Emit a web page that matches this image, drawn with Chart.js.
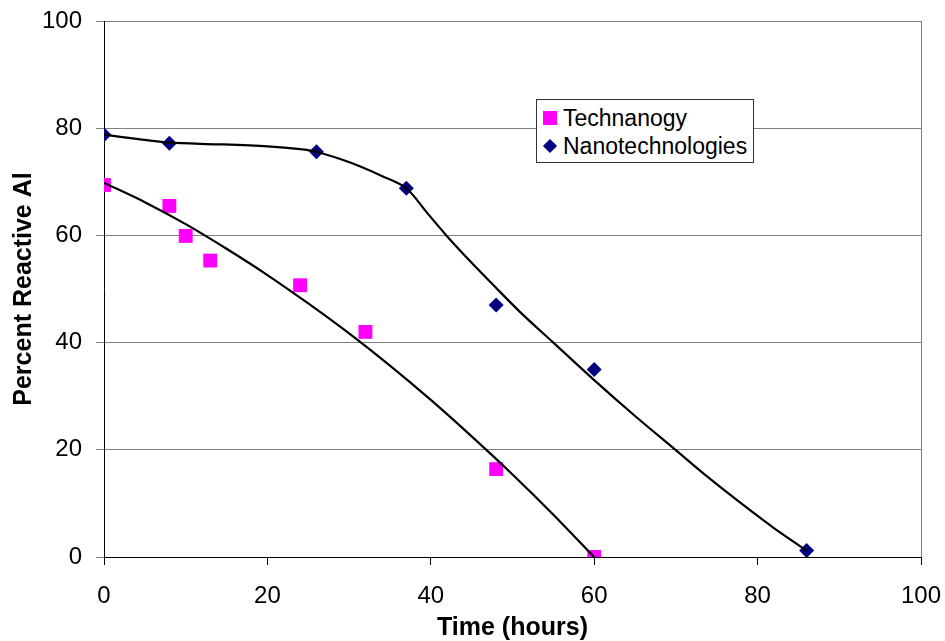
<!DOCTYPE html>
<html>
<head>
<meta charset="utf-8">
<script src="https://cdn.jsdelivr.net/npm/chart.js@4.4.1/dist/chart.umd.min.js"></script>
<style>
  html, body { margin: 0; padding: 0; background: #fff; }
  #wrap { position: relative; width: 945px; height: 641px; }
  #legend { position: absolute; left: 536px; top: 99px; width: 216px; height: 62px;
    border: 1px solid #333; background: #fff; font-family: "Liberation Sans", Arial, sans-serif;
    font-size: 23px; color: #000; }
  .item { position: absolute; left: 0; height: 26px; line-height: 26px; white-space: nowrap; }
  .item span.txt { position: absolute; left: 26px; top: 0; }
  .sq { position: absolute; left: 6px; top: 6px; width: 14px; height: 14px; background: #FF00FF; }
  .dm { position: absolute; left: 8px; top: 8px; width: 10px; height: 10px; background: #000080; transform: rotate(45deg); }
</style>
</head>
<body>
<div id="wrap">
  <canvas id="c" width="945" height="641"></canvas>
  <div id="legend"></div>
</div>
<script>
// ---- data ----
const seriesNames = ["Technanogy", "Nanotechnologies"];

const technanogyX = [0, 8, 10, 13, 24, 32, 48, 60];
const technanogyY = [69.4, 65.5, 59.9, 55.3, 50.7, 42.0, 16.4, 0.0];

const nanoX = [0, 8, 26, 37, 48, 60, 86];
const nanoY = [78.8, 77.2, 75.6, 68.8, 47.0, 35.0, 1.2];

// trend curves
const technanogyCurveX = [0, 5, 10, 15, 20, 25, 30, 35, 40, 45, 50, 55, 60];
const technanogyCurveY = [69.8, 66.2, 62.1, 57.5, 52.6, 47.3, 41.7, 35.7, 29.3, 22.5, 15.4, 7.9, 0.0];

const nanoCurveX = [0, 4, 8, 14, 20, 24, 26, 29, 31.3, 34, 37, 39.5, 41.9, 45, 48, 51, 55, 60, 65, 69.7, 74, 78, 82, 86];
const nanoCurveY = [78.8, 78.0, 77.3, 77.0, 76.6, 76.1, 75.6, 74.2, 72.9, 71.1, 68.8, 64.3, 60.0, 54.9, 50.2, 45.6, 40.0, 33.0, 26.3, 20.3, 14.8, 10.0, 5.4, 1.2];

const xTicks = [0, 20, 40, 60, 80, 100];
const yTicks = [0, 20, 40, 60, 80, 100];
const xTitle = "Time (hours)";
const yTitle = "Percent Reactive Al";

// ---- build ----
const pts = (xs, ys) => xs.map((x, i) => ({ x: x, y: ys[i] }));
const FONT = '"Liberation Sans", Arial, sans-serif';

const legend = document.getElementById('legend');
legend.innerHTML =
  '<div class="item" style="top:5px;width:100%"><div class="sq"></div><span class="txt">' + seriesNames[0] + '</span></div>' +
  '<div class="item" style="top:33px;width:100%"><div class="dm"></div><span class="txt">' + seriesNames[1] + '</span></div>';

function noOverhang(s) { s.paddingTop = 0; s.paddingBottom = 0; s.paddingLeft = 0; s.paddingRight = 0; }

new Chart(document.getElementById('c'), {
  type: 'scatter',
  data: {
    datasets: [
      { label: seriesNames[0] + ' trend', data: pts(technanogyCurveX, technanogyCurveY), showLine: true,
        borderColor: '#000', borderWidth: 2.2, pointRadius: 0, fill: false, tension: 0.3, order: 0 },
      { label: seriesNames[1] + ' trend', data: pts(nanoCurveX, nanoCurveY), showLine: true,
        borderColor: '#000', borderWidth: 2.2, pointRadius: 0, fill: false, tension: 0.3, order: 0 },
      { label: seriesNames[0], data: pts(technanogyX, technanogyY), showLine: false,
        pointStyle: 'rect', pointRadius: 9.8, backgroundColor: '#FF00FF', borderColor: '#FF00FF',
        borderWidth: 0, order: 1 },
      { label: seriesNames[1], data: pts(nanoX, nanoY), showLine: false,
        pointStyle: 'rectRot', pointRadius: 7.5, backgroundColor: '#000080', borderColor: '#000080',
        borderWidth: 0, order: 1 }
    ]
  },
  options: {
    responsive: false,
    animation: false,
    events: [],
    layout: { padding: { left: 0, right: 24, top: 21, bottom: 0 } },
    plugins: { legend: { display: false }, tooltip: { enabled: false } },
    scales: {
      x: {
        type: 'linear', min: 0, max: 100,
        afterBuildTicks: (s) => { s.ticks = xTicks.map(v => ({ value: v })); },
        afterFit: (s) => { s.height = 84; noOverhang(s); },
        ticks: { color: '#000', font: { family: FONT, size: 24 }, padding: 17, maxRotation: 0 },
        grid: {
          drawOnChartArea: true, drawTicks: true, tickLength: 8,
          color: (ctx) => (ctx.tick && ctx.tick.value === 100) ? '#808080' : 'rgba(0,0,0,0)',
          tickColor: '#000', lineWidth: 1
        },
        border: { color: '#000', width: 1 },
        title: { display: true, text: xTitle, color: '#000',
          font: { family: FONT, size: 25, weight: 'bold', lineHeight: 1 }, padding: { top: 0, bottom: 0 } }
      },
      y: {
        type: 'linear', min: 0, max: 100,
        afterBuildTicks: (s) => { s.ticks = yTicks.map(v => ({ value: v })); },
        afterFit: (s) => { s.width = 104; noOverhang(s); },
        ticks: { color: '#000', font: { family: FONT, size: 24 }, padding: 14 },
        grid: { drawOnChartArea: true, drawTicks: true, tickLength: 8, color: '#808080', tickColor: '#808080', lineWidth: 1 },
        border: { color: '#000', width: 1 },
        title: { display: true, text: yTitle, color: '#000',
          font: { family: FONT, size: 25, weight: 'bold', lineHeight: 1 }, padding: { top: 12, bottom: 0 } }
      }
    }
  }
});
</script>
</body>
</html>
